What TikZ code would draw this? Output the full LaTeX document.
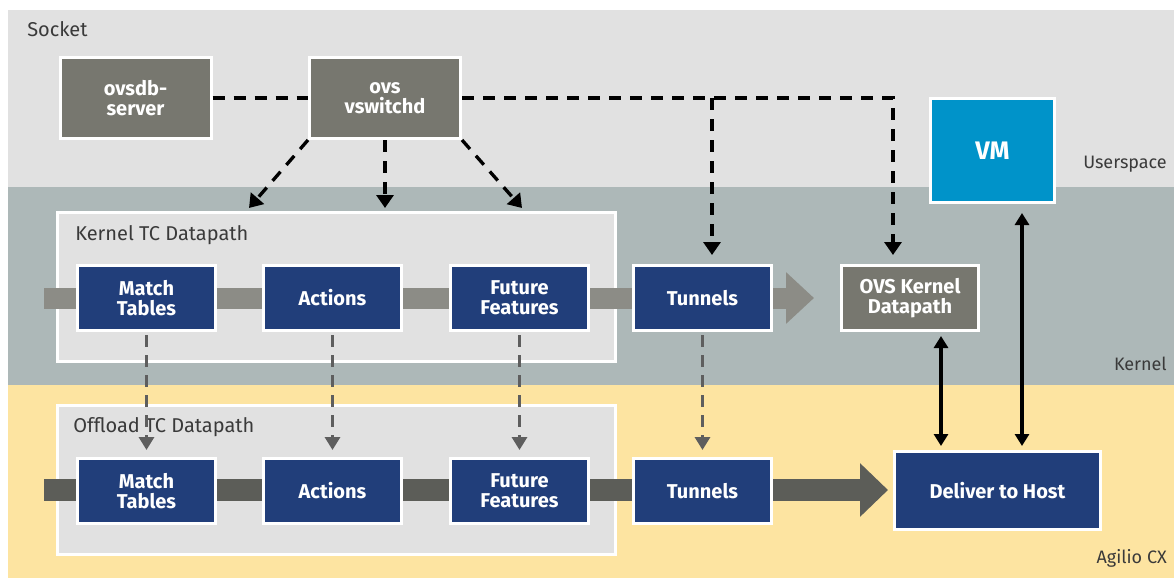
\documentclass[tikz,border=0pt]{standalone}
\usepackage{fontspec}
\setmainfont{Fira Sans}
\usetikzlibrary{arrows.meta,positioning}

\definecolor{userbg}{HTML}{E1E1E1}
\definecolor{kernbg}{HTML}{ADB8B8}
\definecolor{agilbg}{HTML}{FDE4A1}
\definecolor{ovsgray}{HTML}{77776F}
\definecolor{tcblue}{HTML}{213E7A}
\definecolor{vmblue}{HTML}{0093C9}
\definecolor{kbarcol}{HTML}{8C8C86}
\definecolor{obarcol}{HTML}{5C5D58}
\definecolor{labcol}{HTML}{3A3A3A}
\definecolor{dashgray}{HTML}{5E5E5E}

\begin{document}
\begin{tikzpicture}[x=0.75pt, y=-0.75pt,
  blk/.style={draw=white, line width=2.25pt, text=white, align=center,
              font=\bfseries\fontsize{15}{15}\selectfont, inner sep=0pt,
              minimum width=103.5pt, minimum height=48.75pt},
  tc/.style={blk, fill=tcblue},
  ovsbox/.style={blk, fill=ovsgray, minimum width=113.25pt, minimum height=60.75pt},
  frame/.style={fill=userbg, draw=white, line width=2.25pt,
                minimum width=418.5pt, minimum height=111.75pt},
  area/.style={anchor=west, inner sep=0pt, text=labcol,
               font=\fontsize{15}{15}\selectfont},
  side/.style={anchor=east, inner sep=0pt, text=labcol,
               font=\fontsize{13.5}{13.5}\selectfont},
  ctlline/.style={draw=black, line width=2.5pt, dash pattern=on 9pt off 6.75pt},
  ctl/.style={ctlline, -{Triangle[length=9.75pt,width=12.75pt]}},
  off/.style={draw=dashgray, line width=2.4pt, dash pattern=on 9pt off 6pt,
              -{Triangle[length=9.75pt,width=11.25pt]},
              shorten <=2.25pt, shorten >=5.25pt},
  link/.style={draw=black, line width=2.6pt,
               {Triangle[length=9pt,width=10.5pt]}-{Triangle[length=9pt,width=10.5pt]}},
  kbar/.style={draw=kbarcol, line width=15.75pt, -{Triangle[length=21pt,width=37.5pt]}},
  obar/.style={draw=obarcol, line width=16.5pt, -{Triangle[length=21pt,width=39pt]}}
]
  \useasboundingbox (0,0) rectangle (1174,578);
  \fill[userbg] (8,10) rectangle (1174,187);
  \fill[kernbg] (8,187) rectangle (1174,385);
  \fill[agilbg] (8,385) rectangle (1174,578);

  \node[area] (socket) at (27,29) {Socket};
  \node[side] (uslab) at (1167,164) {Userspace};
  \node[side] (kelab) at (1167,364) {Kernel};
  \node[side] (aglab) at (1167,558) {Agilio CX};

  \node[frame] (kdp) at (336.5,287) {};
  \node[frame] (odp) at (336.5,480) {};
  \node[area] (kdplab) at (75,235) {Kernel TC Datapath};
  \node[area] (odplab) at (73,427) {Offload TC Datapath};

  \coordinate (kin) at (44,298);
  \coordinate (kout) at (814,298);
  \coordinate (oin) at (44,490);
  \coordinate (oout) at (888,490);
  \draw[kbar] (kin) -- (kout);
  \draw[obar] (oin) -- (oout);

  \node[ovsbox] (ovsdb) at (135.5,98) {ovsdb-\\server};
  \node[ovsbox] (ovs) at (385,98) {ovs\\vswitchd};

  \node[tc] (kmt) at (146.5,298) {Match\\Tables};
  \node[tc, right=33.75pt of kmt] (kac) {Actions};
  \node[tc, right=34.5pt of kac] (kff) {Future\\Features};
  \node[tc, right=31.5pt of kff] (ktn) {Tunnels};
  \node[blk, fill=ovsgray, minimum width=102.75pt, right=50.25pt of ktn] (okd)
    {OVS Kernel\\Datapath};

  \node[tc, below=93.75pt of kmt] (omt) {Match\\Tables};
  \node[tc, right=33.75pt of omt] (oac) {Actions};
  \node[tc, right=34.5pt of oac] (off) {Future\\Features};
  \node[tc, right=31.5pt of off] (otn) {Tunnels};

  \node[tc, minimum width=154.5pt, minimum height=58.5pt] (dth) at (997.5,490.5)
    {Deliver to Host};
  \node[blk, fill=vmblue, minimum width=93pt, minimum height=78pt,
        font=\bfseries\fontsize{19}{19}\selectfont] (vm) at (992.5,150.5) {VM};

  \coordinate (tkl) at (249,208);
  \coordinate (tkr) at (522,208);
  \draw[ctlline] (ovsdb) -- (ovs);
  \draw[ctl] (ovs.south west) -- (tkl);
  \draw[ctl] (ovs.south) -- (ovs.south |- tkl);
  \draw[ctl] (ovs.south east) -- (tkr);
  \draw[ctl, shorten >=6.75pt] (ovs.east) -| ([xshift=-12.75pt]okd.north);
  \draw[ctl, shorten >=6.75pt] ([xshift=7.125pt]ktn.north |- ovs.east)
    -- ([xshift=7.125pt]ktn.north);

  \foreach \a/\b in {kmt/omt, kac/oac, kff/off, ktn/otn}
    \draw[off] (\a) -- (\b);

  \draw[link, shorten <=3pt, shorten >=3pt]
    ([xshift=23.25pt]okd.south) -- ([xshift=23.25pt]okd.south |- dth.north);
  \draw[link, shorten <=6.75pt, shorten >=3pt]
    ([xshift=22.125pt]vm.south) -- ([xshift=22.125pt]vm.south |- dth.north);
\end{tikzpicture}
\end{document}
